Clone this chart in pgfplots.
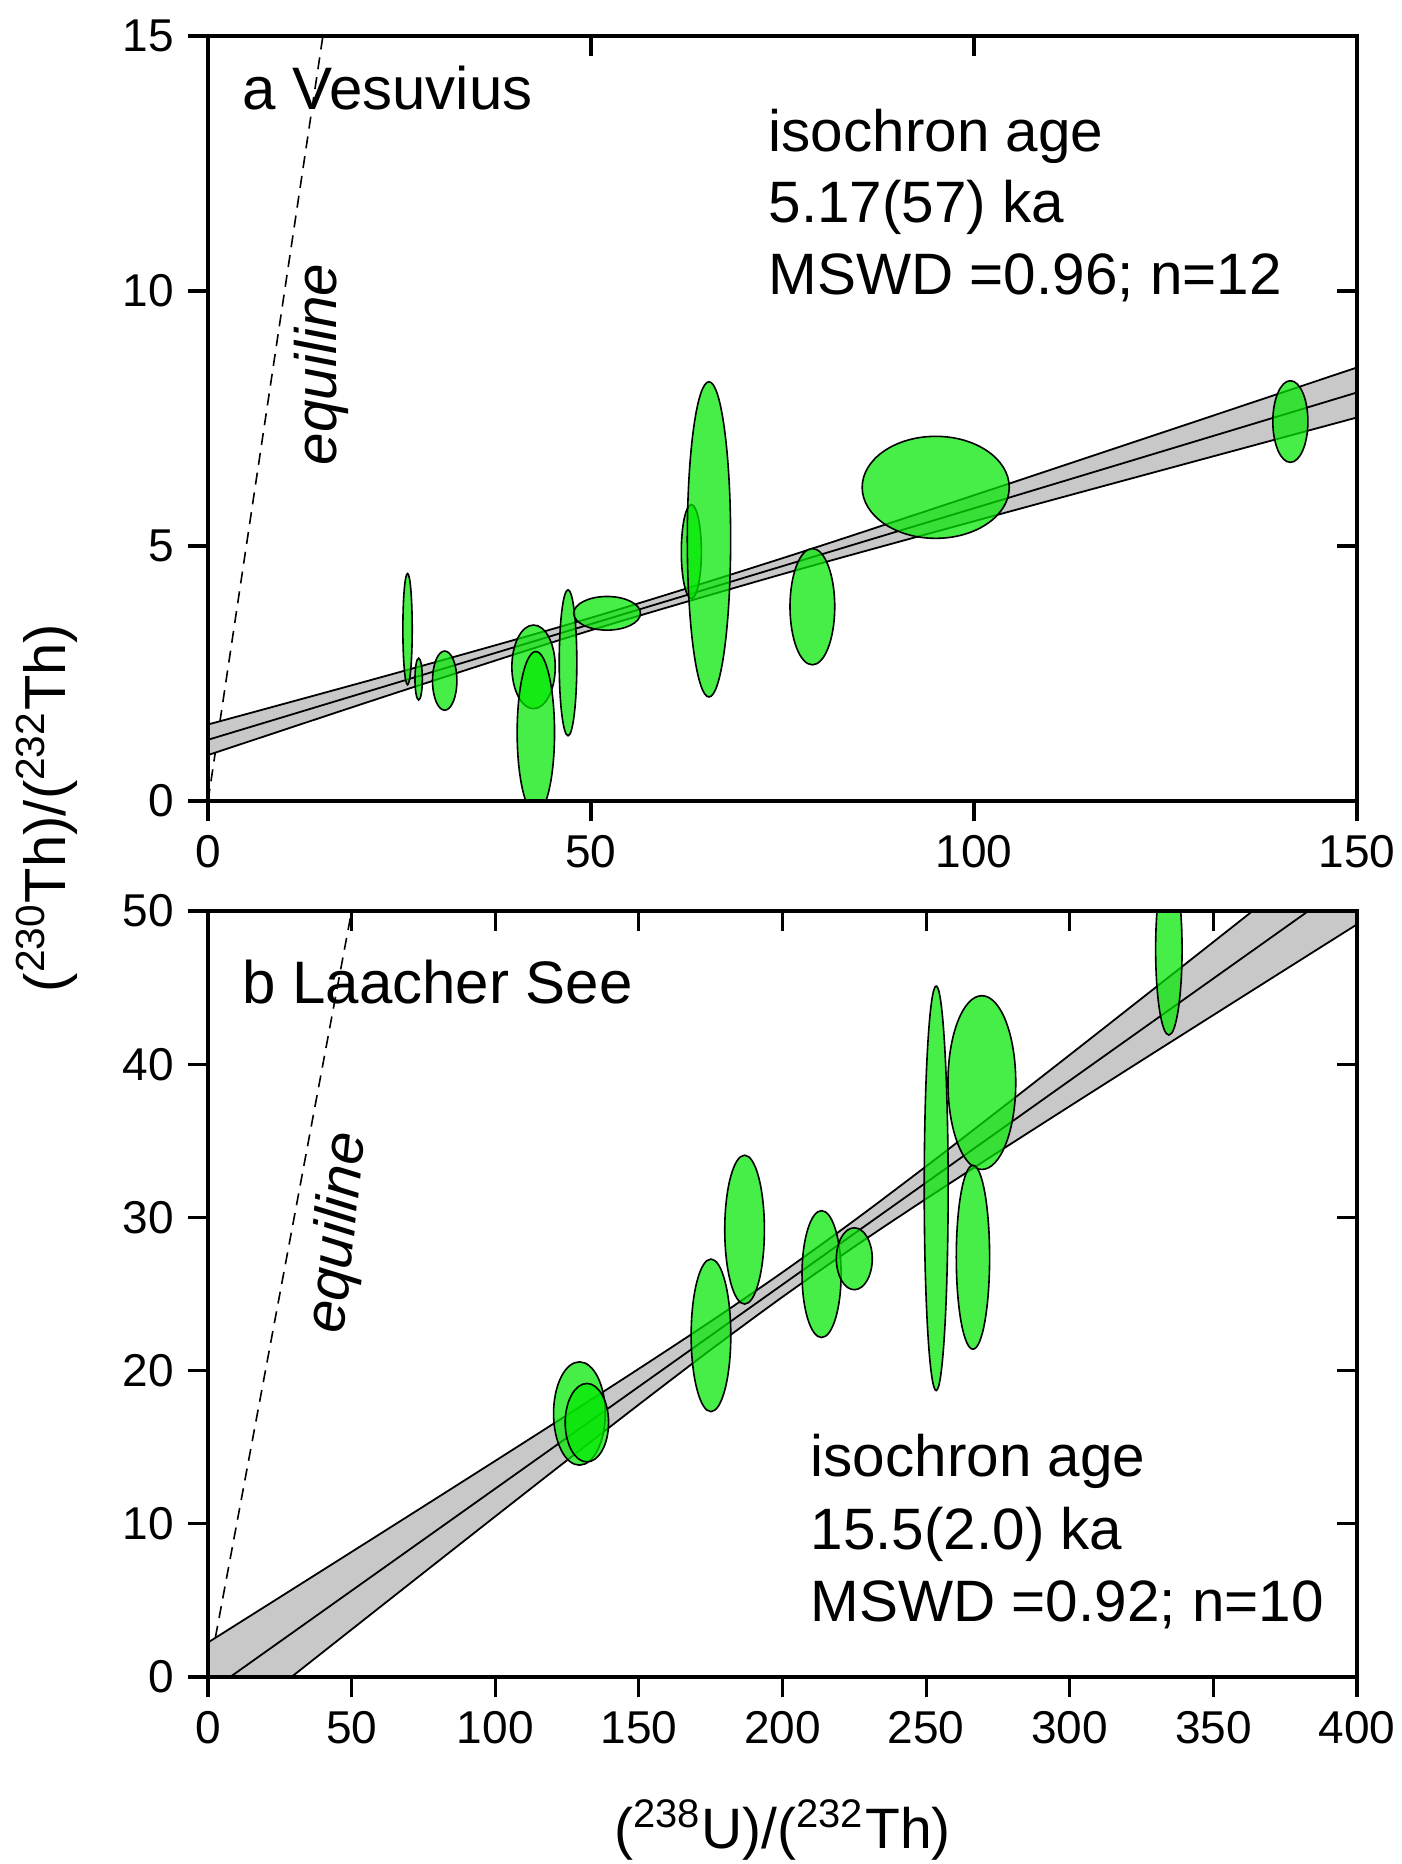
\documentclass[border=0pt]{standalone}
\usepackage{pgfplots}
\usepackage{pgfplotstable}
\pgfplotsset{compat=1.18}
\usepackage{fontspec}
\setmainfont{Liberation Sans}
\definecolor{ellgreen}{RGB}{0,232,0}
\definecolor{bandgray}{RGB}{200,200,200}

% ellipse marks: radii given in data units, converted with the axis unit lengths
\pgfdeclareplotmark{ellA}{\pgfpathellipse{\pgfpointorigin}{\pgfpoint{1.915*\rx pt}{0pt}}{\pgfpoint{0pt}{12.75*\ry pt}}\pgfusepathqfillstroke}
\pgfdeclareplotmark{ellB}{\pgfpathellipse{\pgfpointorigin}{\pgfpoint{0.718125*\rx pt}{0pt}}{\pgfpoint{0pt}{3.83*\ry pt}}\pgfusepathqfillstroke}

\pgfplotstableread{
cx cy rx ry
26.05 3.37 0.61 1.09
27.5 2.39 0.48 0.41
30.9 2.36 1.59 0.58
42.5 2.63 2.83 0.82
42.8 1.34 2.44 1.59
47.0 2.71 1.15 1.43
52.1 3.68 4.36 0.33
63.1 4.89 1.31 0.92
65.4 5.13 2.83 3.09
78.9 3.81 2.92 1.14
95.0 6.15 9.6 1.00
141.3 7.44 2.29 0.80
}\vesdata

\pgfplotstableread{
cx cy rx ry
129.3 17.2 9.0 3.37
131.9 16.6 7.55 2.56
175.1 22.3 6.9 4.98
186.8 29.2 6.9 4.86
213.6 26.3 6.8 4.14
225.0 27.3 6.25 2.02
253.5 31.9 4.16 13.2
269.4 38.8 11.8 5.67
266.3 27.4 5.8 6.0
334.5 47.5 4.6 5.6
}\lsdata

\pgfplotsset{
  panel/.style={
    scale only axis, width=287.25pt, anchor=south west,
    axis line style={line width=0.9pt},
    tick style={line width=0.8pt, black},
    major tick length=5pt,
    tick label style={font=\fontsize{11.5}{13}\selectfont},
    /pgf/number format/assume math mode=true,
    clip marker paths=true,
    axis on top,
  },
  mainticks/.style={xtick pos=left, ytick pos=left, tick align=outside},
  innerticks/.style={xtick pos=right, ytick pos=right, tick align=inside,
    xticklabels={}, yticklabels={}, axis line style={draw=none}},
  ellstyle/.style={only marks, mark options={draw=black, fill=ellgreen, fill opacity=0.72, line width=0.4pt, solid},
    visualization depends on={\thisrow{rx}\as\rx},
    visualization depends on={\thisrow{ry}\as\ry}},
  equi/.style={black, line width=0.4pt, dash pattern=on 3pt off 2pt},
  bandline/.style={black, line width=0.45pt, smooth},
}

\begin{document}
\begin{tikzpicture}
\useasboundingbox (0,0) rectangle (350.5pt,466pt);

% ---------- panel a ----------
\begin{axis}[panel, mainticks, at={(52pt,265.75pt)}, height=191.25pt,
  xmin=0, xmax=150, ymin=0, ymax=15,
  xtick={0,50,100,150}, ytick={0,5,10,15}]
\addplot[equi] coordinates {(0,0) (15,15)};
\addplot[fill=bandgray, draw=none] coordinates {
 (0,1.500) (25,2.527) (50,3.593) (75,4.761) (100,5.995) (125,7.245) (150,8.500)
 (150,7.520) (125,6.505) (100,5.485) (75,4.449) (50,3.348) (25,2.143) (0,0.900)} -- cycle;
\addplot[bandline] coordinates {(0,1.500) (25,2.527) (50,3.593) (75,4.761) (100,5.995) (125,7.245) (150,8.500)};
\addplot[bandline] coordinates {(0,0.900) (25,2.143) (50,3.348) (75,4.449) (100,5.485) (125,6.505) (150,7.520)};
\addplot[black, line width=0.45pt] coordinates {(0,1.20) (150,8.01)};
\addplot[ellstyle, mark=ellA] table[x=cx, y=cy] {\vesdata};
\end{axis}
\begin{axis}[panel, innerticks, at={(52pt,265.75pt)}, height=191.25pt,
  xmin=0, xmax=150, ymin=0, ymax=15,
  xtick={0,50,100,150}, ytick={0,5,10,15}]
\end{axis}

% ---------- panel b ----------
\begin{axis}[panel, mainticks, at={(52pt,46.75pt)}, height=191.5pt,
  xmin=0, xmax=400, ymin=0, ymax=50,
  xtick={0,50,...,400}, ytick={0,10,...,50}]
\addplot[equi] coordinates {(0,0) (50,50)};
\addplot[fill=bandgray, draw=none] coordinates {
 (0,2.251) (25,5.206) (50,8.166) (75,11.132) (100,14.108) (125,17.100) (150,20.123) (175,23.209) (200,26.418)
 (225,29.802) (250,33.335) (275,36.952) (300,40.610) (325,44.289) (350,47.980) (375,51.678) (400,55.381)
 (400,49.127) (375,46.170) (350,43.208) (325,40.239) (300,37.258) (275,34.256) (250,31.213) (225,28.086)
 (200,24.810) (175,21.359) (150,17.785) (125,14.148) (100,10.480) (75,6.796) (50,3.102) (25,-0.598) (0,-4.303)} -- cycle;
\addplot[bandline] coordinates {(0,2.251) (25,5.206) (50,8.166) (75,11.132) (100,14.108) (125,17.100) (150,20.123) (175,23.209) (200,26.418)
 (225,29.802) (250,33.335) (275,36.952) (300,40.610) (325,44.289) (350,47.980) (375,51.678) (400,55.381)};
\addplot[bandline] coordinates {(0,-4.303) (25,-0.598) (50,3.102) (75,6.796) (100,10.480) (125,14.148) (150,17.785) (175,21.359) (200,24.810)
 (225,28.086) (250,31.213) (275,34.256) (300,37.258) (325,40.239) (350,43.208) (375,46.170) (400,49.127)};
\addplot[black, line width=0.45pt] coordinates {(0,-1.026) (400,52.254)};
\addplot[ellstyle, mark=ellB] table[x=cx, y=cy] {\lsdata};
\end{axis}
\begin{axis}[panel, innerticks, at={(52pt,46.75pt)}, height=191.5pt,
  xmin=0, xmax=400, ymin=0, ymax=50,
  xtick={0,50,...,400}, ytick={0,10,...,50}]
\end{axis}

% ---------- texts ----------
\def\annfont{\fontsize{14.6}{18}\selectfont}
\node[anchor=base west, inner sep=0] at (60.4pt,438.5pt) {\fontsize{15}{18}\selectfont a Vesuvius};
\node[anchor=base west, inner sep=0] at (192pt,428pt) {\annfont isochron age};
\node[anchor=base west, inner sep=0] at (192pt,410.25pt) {\annfont 5.17(57) ka};
\node[anchor=base west, inner sep=0] at (192pt,392.25pt) {\annfont MSWD =0.96; n=12};
\node[rotate=90, inner sep=0] at (80.25pt,374.9pt) {\annfont\itshape equiline};

\node[anchor=base west, inner sep=0] at (60.4pt,215pt) {\fontsize{15}{18}\selectfont b Laacher See};
\node[anchor=base west, inner sep=0] at (202.5pt,96.75pt) {\annfont isochron age};
\node[anchor=base west, inner sep=0] at (202.5pt,78.5pt) {\annfont 15.5(2.0) ka};
\node[anchor=base west, inner sep=0] at (202.5pt,60.5pt) {\annfont MSWD =0.92; n=10};
\node[rotate=84, inner sep=0] at (84.85pt,157.75pt) {\annfont\itshape equiline};

\node[rotate=90, inner sep=0] at (11.75pt,264pt) {\fontsize{14.5}{17}\selectfont (\textsuperscript{230}Th)/(\textsuperscript{232}Th)};
\node[anchor=base, inner sep=0] at (195.6pt,4pt) {\fontsize{14.25}{17}\selectfont (\textsuperscript{238}U)/(\textsuperscript{232}Th)};
\end{tikzpicture}
\end{document}
